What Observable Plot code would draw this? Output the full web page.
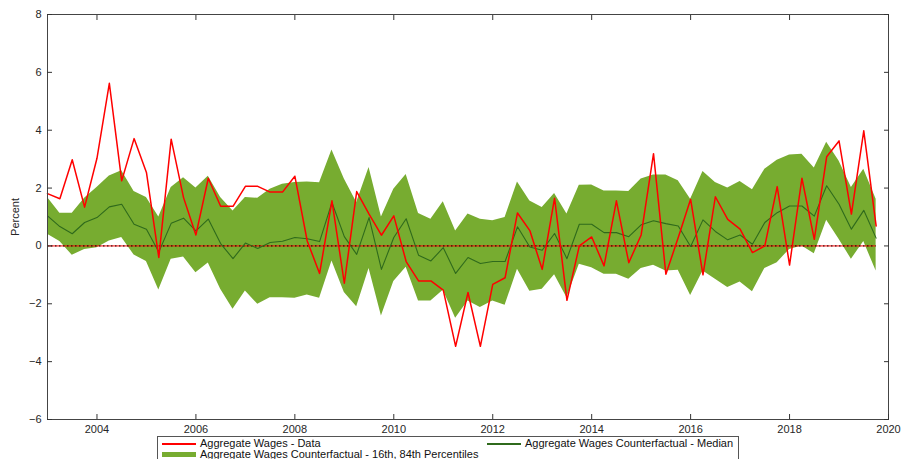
<!DOCTYPE html>
<html>
<head>
<meta charset="utf-8">
<script src="https://cdn.jsdelivr.net/npm/d3@7"></script>
<script src="https://cdn.jsdelivr.net/npm/@observablehq/plot@0.6"></script>
<style>
  html, body { margin: 0; padding: 0; background: #fff; overflow: hidden; }
  #wrap { position: relative; width: 903px; height: 459px; }
  #chart { position: absolute; left: 0; top: 0; }
  #legend { position: absolute; left: 157px; top: 436px; width: 580px; height: 30px;
    border: 1px solid #555; background: #fff; font-family: "Liberation Sans", Arial, sans-serif;
    font-size: 11px; line-height: 11px; color: #111; }
  .item { position: absolute; display: flex; align-items: center; height: 11px; white-space: nowrap; }
  .item span { line-height: 11px; display: block; height: 11px; }
  .sw { width: 34px; margin-right: 4px; }
</style>
</head>
<body>
<div id="wrap">
  <div id="chart"></div>
  <div id="legend">
    <div class="item" style="left:4px; top:1px;"><div class="sw" style="height:2px;background:#ff0000"></div><span>Aggregate Wages - Data</span></div>
    <div class="item" style="left:329px; top:1px;"><div class="sw" style="height:2px;background:#2f6a1c"></div><span>Aggregate Wages Counterfactual - Median</span></div>
    <div class="item" style="left:4px; top:12px;"><div class="sw" style="height:5px;background:#77AC30"></div><span>Aggregate Wages Counterfactual - 16th, 84th Percentiles</span></div>
  </div>
</div>
<script>
// Quarterly observations, 2003Q1 .. 2019Q4
const startYear = 2003;
const dataSeries = [1.81,1.63,2.98,1.34,3.03,5.62,2.25,3.71,2.54,-0.40,
  3.69,1.67,0.38,2.34,1.37,1.37,2.06,2.06,1.86,1.86,
  2.41,0.17,-0.95,1.56,-1.29,1.88,1.10,0.37,1.04,-0.54,
  -1.21,-1.21,-1.53,-3.47,-1.61,-3.47,-1.33,-1.10,1.14,0.53,
  -0.81,1.65,-1.88,0.00,0.31,-0.69,1.56,-0.58,0.38,3.19,
  -0.98,0.29,1.61,-1.00,1.70,0.92,0.58,-0.23,0.00,2.05,
  -0.66,2.34,0.23,3.08,3.63,1.10,3.98,0.69];
const medianSeries = [1.04,0.67,0.42,0.81,0.98,1.35,1.44,0.75,0.58,-0.21,
  0.78,0.96,0.52,0.93,0.08,-0.44,0.10,-0.09,0.12,0.16,
  0.29,0.25,0.15,1.50,0.32,-0.29,0.98,-0.81,0.29,0.94,
  -0.32,-0.52,-0.06,-0.95,-0.40,-0.61,-0.54,-0.54,0.66,-0.04,
  -0.15,0.43,-0.44,0.75,0.75,0.46,0.46,0.32,0.73,0.87,
  0.77,0.69,-0.02,0.90,0.50,0.21,0.38,0.06,0.81,1.15,
  1.38,1.38,1.03,2.08,1.44,0.58,1.23,0.27];
const upperSeries = [1.67,1.13,1.13,1.65,2.02,2.42,2.60,1.88,1.67,1.00,
  2.02,2.36,2.00,2.41,1.67,1.21,1.67,1.65,1.96,2.13,
  2.19,2.21,2.18,3.32,2.31,1.50,2.71,1.00,1.96,2.47,
  1.12,0.92,1.53,0.52,1.10,0.92,0.87,0.98,2.21,1.55,
  1.33,1.81,1.10,2.10,2.11,1.90,1.90,1.88,2.31,2.45,
  2.45,2.25,1.61,2.57,2.19,2.00,2.23,1.94,2.65,2.96,
  3.14,3.17,2.69,3.58,2.94,2.02,2.65,1.61];
const lowerSeries = [0.40,0.15,-0.32,-0.12,-0.06,0.17,0.29,-0.31,-0.54,-1.52,
  -0.46,-0.38,-0.93,-0.59,-1.50,-2.19,-1.56,-2.02,-1.79,-1.79,
  -1.81,-1.70,-1.81,-0.52,-1.61,-2.10,-0.78,-2.42,-1.23,-0.74,
  -1.90,-1.90,-1.53,-2.50,-1.90,-2.13,-1.90,-2.05,-0.81,-1.57,
  -1.50,-1.00,-1.79,-0.63,-0.75,-0.98,-0.98,-1.15,-0.78,-0.67,
  -0.87,-0.84,-1.71,-0.87,-1.15,-1.44,-1.25,-1.58,-0.78,-0.58,
  -0.12,0.00,-0.27,0.89,0.23,-0.46,0.15,-0.87];
const xTicks = [2004, 2006, 2008, 2010, 2012, 2014, 2016, 2018, 2020];
const yTicks = [-6, -4, -2, 0, 2, 4, 6, 8];

const rows = dataSeries.map((v, i) => ({
  t: startYear + i / 4,
  data: v,
  med: medianSeries[i],
  hi: upperSeries[i],
  lo: lowerSeries[i]
}));
const tFirst = rows[0].t, tLast = rows[rows.length - 1].t;

const chart = Plot.plot({
  width: 903,
  height: 436,
  marginLeft: 47,
  marginRight: 15,
  marginTop: 14,
  marginBottom: 17,
  x: { domain: [2003, 2020] },
  y: { domain: [-6, 8] },
  style: { fontFamily: "'Liberation Sans', Arial, sans-serif", fontSize: "11px", color: "#262626", background: "transparent", overflow: "visible" },
  marks: [
    Plot.areaY(rows, { x: "t", y1: "lo", y2: "hi", fill: "#77AC30", fillOpacity: 1 }),
    Plot.ruleY([0], { x1: tFirst, x2: tLast, stroke: "#ff0000", strokeWidth: 1 }),
    Plot.ruleY([0], { x1: tFirst, x2: tLast, stroke: "#000", strokeWidth: 1, strokeDasharray: "1.5,2.5" }),
    Plot.lineY(rows, { x: "t", y: "med", stroke: "#2f6a1c", strokeWidth: 1.1 }),
    Plot.lineY(rows, { x: "t", y: "data", stroke: "#ff0000", strokeWidth: 1.5 }),
    Plot.frame({ stroke: "#444" }),
    Plot.axisX({ ticks: xTicks, tickFormat: "d", tickSize: -5, tickPadding: 11, label: null, stroke: "#333" }),
    Plot.axisX({ anchor: "top", ticks: xTicks, tickFormat: () => "", tickSize: -5, label: null, stroke: "#333" }),
    Plot.axisY({ ticks: yTicks, tickSize: -5, tickPadding: 11, label: "Percent", labelAnchor: "center", labelArrow: "none", labelOffset: 36, stroke: "#333" }),
    Plot.axisY({ anchor: "right", ticks: yTicks, tickFormat: () => "", tickSize: -5, label: null, stroke: "#333" })
  ]
});
document.getElementById("chart").appendChild(chart);
</script>
</body>
</html>
